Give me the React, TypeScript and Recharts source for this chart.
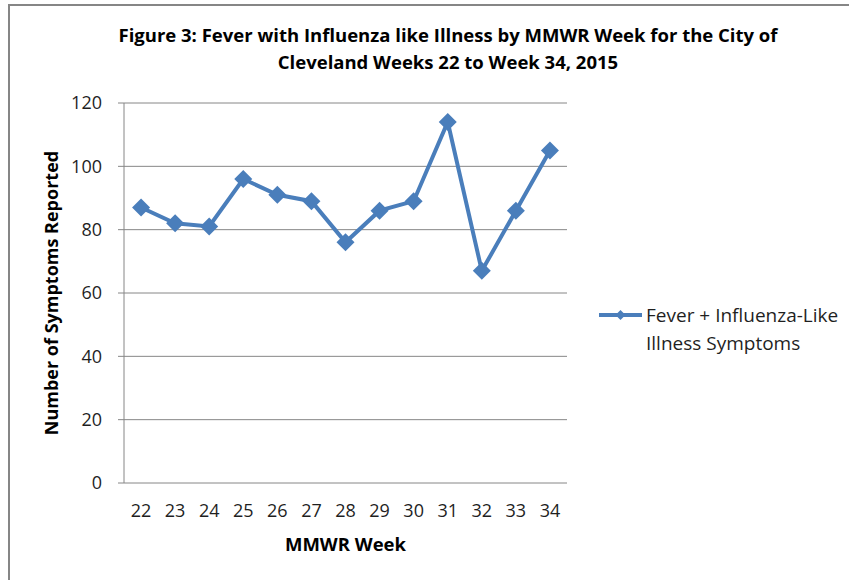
import React from 'react';
import { LineChart, Line, XAxis, YAxis, CartesianGrid, Legend } from 'recharts';

const weeks = [22, 23, 24, 25, 26, 27, 28, 29, 30, 31, 32, 33, 34];
const feverIli = [87, 82, 81, 96, 91, 89, 76, 86, 89, 114, 67, 86, 105];
const yTicks = [0, 20, 40, 60, 80, 100, 120];
const seriesName = 'Fever + Influenza-Like Illness Symptoms';
const titleLines = [
  'Figure 3: Fever with Influenza like Illness by MMWR Week for the City of',
  'Cleveland Weeks 22 to Week 34, 2015',
];
const xAxisTitle = 'MMWR Week';
const yAxisTitle = 'Number of Symptoms Reported';

const data = weeks.map((w, i) => ({ week: w, value: feverIli[i] }));
const weekBoundaries = [...weeks.map((w) => w - 0.5), weeks[weeks.length - 1] + 0.5];
const xDomain = [weekBoundaries[0], weekBoundaries[weekBoundaries.length - 1]];

const LINE_COLOR = '#4A7EBB';
const AXIS_COLOR = '#868686';
const TEXT_COLOR = '#1f1f1f';
const FONT = "'Open Sans', 'Noto Sans', sans-serif";

const Diamond = (props: any) => {
  const { cx, cy, index } = props;
  if (cx == null || cy == null) return <g key={`d-${index}`} />;
  const r = 9;
  return (
    <path
      key={`d-${index}`}
      d={`M${cx} ${cy - r} L${cx + r} ${cy} L${cx} ${cy + r} L${cx - r} ${cy} Z`}
      fill={LINE_COLOR}
    />
  );
};

const YLabel = (props: any) => {
  const vb = props.viewBox || {};
  const cx = vb.x + 13;
  const cy = vb.y + vb.height / 2;
  return (
    <text
      x={cx}
      y={cy}
      transform={`rotate(-90 ${cx} ${cy})`}
      textAnchor="middle"
      dominantBaseline="central"
      fontFamily={FONT}
      fontWeight="bold"
      fontSize={18}
      fill="#000"
    >
      {yAxisTitle}
    </text>
  );
};

const LegendContent = (props: any) => {
  const item = (props.payload && props.payload[0]) || { value: seriesName, color: LINE_COLOR };
  return (
    <div style={{ display: 'flex', alignItems: 'flex-start' }}>
      <svg width={48} height={28} style={{ flex: 'none' }}>
        <line x1={1} y1={14} x2={44} y2={14} stroke={LINE_COLOR} strokeWidth={4} />
        <path d="M22.5 9 L27.5 14 L22.5 19 L17.5 14 Z" fill={LINE_COLOR} />
      </svg>
      <div
        style={{
          fontFamily: FONT,
          fontSize: 19,
          lineHeight: '28px',
          color: TEXT_COLOR,
          width: 200,
          textAlign: 'left',
        }}
      >
        {item.value}
      </div>
    </div>
  );
};

const NoTick = () => <g />;

export default function App() {
  return (
    <div
      style={{
        position: 'absolute',
        left: 0,
        top: 0,
        width: 849,
        height: 580,
        overflow: 'hidden',
        background: '#fff',
        fontFamily: FONT,
      }}
    >
      <div
        style={{
          position: 'absolute',
          left: 8,
          top: 4,
          width: 849 - 8,
          height: 580 - 4,
          borderLeft: `2px solid ${AXIS_COLOR}`,
          borderTop: `2px solid ${AXIS_COLOR}`,
          boxSizing: 'border-box',
        }}
      />
      <div
        style={{
          position: 'absolute',
          left: 48,
          top: 21,
          width: 800,
          textAlign: 'center',
          fontWeight: 'bold',
          fontSize: 18.5,
          lineHeight: '27px',
          color: '#000',
          fontFamily: FONT,
        }}
      >
        {titleLines[0]}
        <br />
        {titleLines[1]}
      </div>
      <div style={{ position: 'absolute', left: 0, top: 0 }}>
        <LineChart
          width={849}
          height={580}
          data={data}
          margin={{ top: 103, right: 282, bottom: 27, left: 38 }}
        >
          <CartesianGrid
            xAxisId="labels"
            vertical={false}
            stroke={AXIS_COLOR}
            strokeWidth={1}
          />
          <XAxis
            xAxisId="marks"
            dataKey="week"
            type="number"
            domain={xDomain}
            ticks={weekBoundaries}
            interval={0}
            height={0}
            tick={NoTick}
            tickSize={5}
            axisLine={{ stroke: AXIS_COLOR }}
            tickLine={{ stroke: AXIS_COLOR }}
          />
          <XAxis
            xAxisId="labels"
            dataKey="week"
            type="number"
            domain={xDomain}
            ticks={weeks}
            interval={0}
            height={70}
            axisLine={false}
            tickLine={false}
            tickSize={6}
            tickMargin={15}
            tick={{ fontSize: 18, fill: TEXT_COLOR, fontFamily: FONT }}
            label={{
              value: xAxisTitle,
              position: 'insideBottom',
              offset: 2,
              fontSize: 18.5,
              fontWeight: 'bold',
              fill: '#000',
              fontFamily: FONT,
            }}
          />
          <YAxis
            domain={[0, 120]}
            ticks={yTicks}
            interval={0}
            width={86}
            axisLine={{ stroke: AXIS_COLOR }}
            tickLine={{ stroke: AXIS_COLOR }}
            tickSize={6}
            tickMargin={16}
            tick={{ fontSize: 18, fill: TEXT_COLOR, fontFamily: FONT }}
            label={<YLabel />}
          />
          <Legend
            layout="horizontal"
            verticalAlign="middle"
            align="center"
            content={<LegendContent />}
            wrapperStyle={{ left: 598, top: 301, width: 250, right: 'auto', bottom: 'auto' }}
          />
          <Line
            xAxisId="labels"
            type="linear"
            dataKey="value"
            name={seriesName}
            stroke={LINE_COLOR}
            strokeWidth={4}
            dot={Diamond}
            activeDot={false}
            isAnimationActive={false}
          />
        </LineChart>
      </div>
    </div>
  );
}
